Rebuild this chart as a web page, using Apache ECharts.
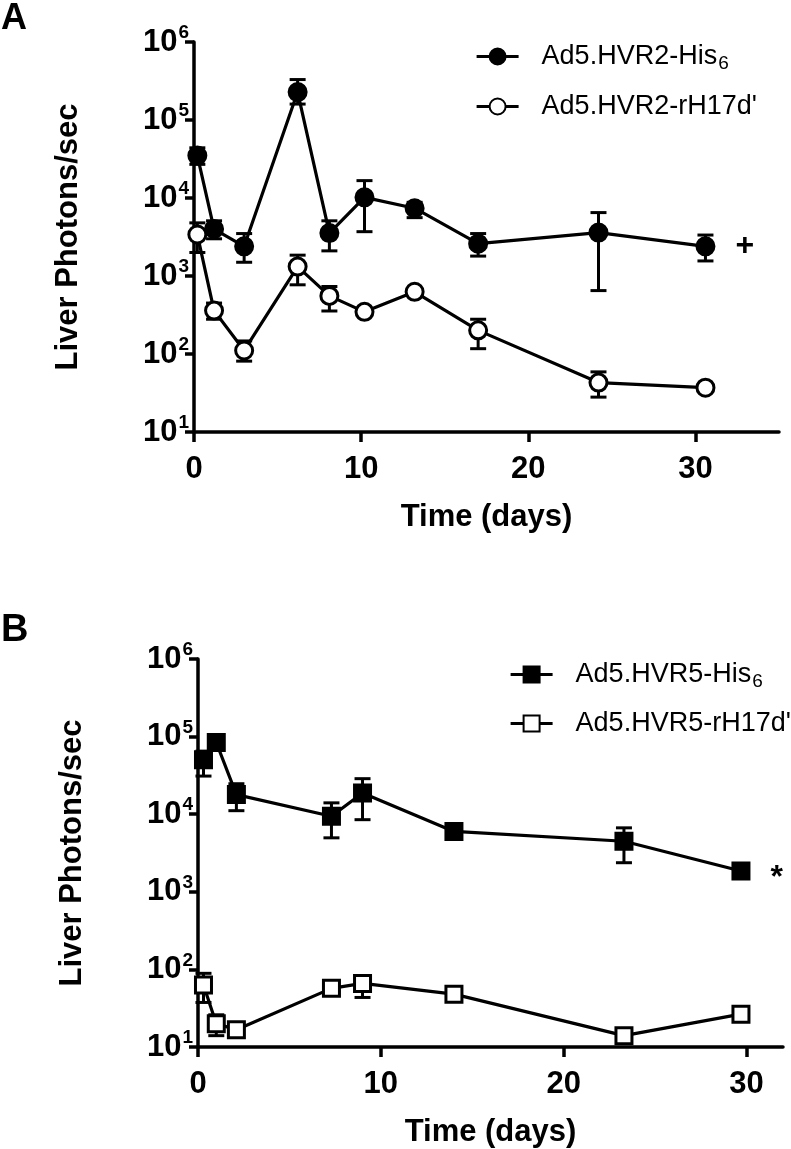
<!DOCTYPE html>
<html>
<head>
<meta charset="utf-8">
<script src="https://cdn.jsdelivr.net/npm/echarts@6/dist/echarts.min.js"></script>
<style>
html,body{margin:0;padding:0;background:#fff;}
#c{width:791px;height:1149px;}
</style>
</head>
<body>
<div id="c"></div>
<script>
// ---------- Panel A data ----------
const daysA = [0.2, 1.2, 3.0, 6.2, 8.1, 10.2, 13.2, 17.0, 24.2, 30.6];
const hvr2His = [35000, 4000, 2400, 228000, 3550, 10200, 7400, 2600, 3600, 2400];
const hvr2HisLo = [27000, 3000, 1500, 160000, 2100, 3700, 5600, 1800, 650, 1560];
const hvr2HisHi = [44000, 5100, 3500, 330000, 5100, 16700, 8800, 3500, 6500, 3350];
const hvr2Rh = [3400, 360, 111, 1320, 556, 347, 627, 201, 43, 37];
const hvr2RhLo = [2000, 279, 81, 771, 356, null, null, 117, 28, null];
const hvr2RhHi = [4800, 450, 147, 1850, 733, null, null, 279, 59, null];
// ---------- Panel B data ----------
const daysB = [0.3, 1.0, 2.1, 7.3, 9.0, 14.0, 23.3, 29.7];
const hvr5His = [50400, 84000, 17900, 9400, 18800, 6000, 4480, 1850];
const hvr5HisLo = [31000, 68000, 11100, 4960, 8500, null, 2370, null];
const hvr5HisHi = [65000, 100000, 24700, 14000, 28700, null, 6670, null];
const hvr5Rh = [63, 20, 16.7, 57, 66, 48, 14, 26.5];
const hvr5RhLo = [37.5, 14, null, null, 43.5, null, null, null];
const hvr5RhHi = [89, 26, null, null, 78.7, null, null, null];
// ---------- labels ----------
const seriesNames = ['Ad5.HVR2-His6', "Ad5.HVR2-rH17d'", 'Ad5.HVR5-His6', "Ad5.HVR5-rH17d'"];
const xTicks = [0, 10, 20, 30];
const yTitle = 'Liver Photons/sec';
const xTitle = 'Time (days)';
const panelLetters = ['A', 'B'];
const sigMarks = ['+', '*'];

const FONT = '"Liberation Sans", Arial, Helvetica, sans-serif';
const chart = echarts.init(document.getElementById('c'), null, {renderer: 'canvas'});

function pairs(xs, ys) { return xs.map((x, i) => [x, ys[i]]); }
function errData(xs, lo, hi) {
  const out = [];
  xs.forEach((x, i) => { if (lo[i] != null && hi[i] != null) out.push([x, lo[i], hi[i]]); });
  return out;
}
function withMark(xs, ys, mark, off) {
  return xs.map((x, i) => {
    if (i === xs.length - 1) {
      return {value: [x, ys[i]], label: {show: true, position: 'right', distance: 20, formatter: mark,
        offset: off, color: '#000', fontSize: 32, fontWeight: 'bold', fontFamily: FONT}};
    }
    return [x, ys[i]];
  });
}
function errSeries(data, idx) {
  return {
    type: 'custom', xAxisIndex: idx, yAxisIndex: idx, z: 1, silent: true,
    data: data,
    renderItem: function (params, api) {
      const x = api.value(0);
      const lo = api.coord([x, api.value(1)]);
      const hi = api.coord([x, api.value(2)]);
      const w = 8;
      const st = {stroke: '#000', lineWidth: 3};
      return {type: 'group', children: [
        {type: 'line', shape: {x1: lo[0], y1: lo[1], x2: hi[0], y2: hi[1]}, style: st},
        {type: 'line', shape: {x1: lo[0] - w, y1: lo[1], x2: lo[0] + w, y2: lo[1]}, style: st},
        {type: 'line', shape: {x1: hi[0] - w, y1: hi[1], x2: hi[0] + w, y2: hi[1]}, style: st}
      ]};
    }
  };
}
function lineSeries(name, data, idx, symbol, filled) {
  return {
    name: name, type: 'line', xAxisIndex: idx, yAxisIndex: idx, z: 3,
    data: data, symbol: symbol, symbolSize: symbol === 'rect' ? 16 : 17, showAllSymbol: true,
    lineStyle: {color: '#000', width: 3.2},
    itemStyle: {color: filled ? '#000' : '#fff', borderColor: '#000', borderWidth: 3},
    emphasis: {disabled: true}, animation: false
  };
}
function supLabel(v) {
  const e = Math.round(Math.log10(v));
  return '{b|10}{p|' + e + '}';
}
function yAxis(idx) {
  return {
    type: 'log', logBase: 10, min: 10, max: 1000000, gridIndex: idx,
    name: yTitle, nameLocation: 'middle', nameGap: 110,
    nameTextStyle: {fontSize: 31, fontWeight: 'bold', color: '#000', fontFamily: FONT},
    axisLine: {show: true, lineStyle: {color: '#000', width: 3.5}},
    axisTick: {show: true, length: 9, lineStyle: {color: '#000', width: 3.5}},
    minorTick: {show: false}, splitLine: {show: false},
    axisLabel: {
      margin: 5, formatter: supLabel, color: '#000',
      rich: {
        b: {fontSize: 31, fontWeight: 'bold', fontFamily: FONT, color: '#000'},
        p: {fontSize: 19, fontWeight: 'bold', fontFamily: FONT, color: '#000', padding: [0, 0, 18, 1]}
      }
    }
  };
}
function xAxis(idx, max) {
  return {
    type: 'value', min: 0, max: max, interval: 10, gridIndex: idx,
    name: xTitle, nameLocation: 'middle', nameGap: 70,
    nameTextStyle: {fontSize: 31, fontWeight: 'bold', color: '#000', fontFamily: FONT},
    axisLine: {show: true, onZero: false, lineStyle: {color: '#000', width: 3.5}},
    axisTick: {show: true, length: 10, customValues: xTicks, lineStyle: {color: '#000', width: 3.5}},
    splitLine: {show: false},
    axisLabel: {customValues: xTicks, margin: 22, fontSize: 31, fontWeight: 'bold', color: '#000', fontFamily: FONT}
  };
}
function legendFmt(name) {
  if (name.endsWith('His6')) return '{t|' + name.slice(0, -1) + '}{s|6}';
  return '{t|' + name + '}';
}
const legendText = {
  color: '#000', fontSize: 27, fontFamily: FONT, padding: [0, 0, 0, 18],
  rich: {
    t: {fontSize: 27, fontFamily: FONT, color: '#000'},
    s: {fontSize: 19, fontFamily: FONT, color: '#000', padding: [14, 0, 0, 1]}
  }
};
const legendCommon = {
  orient: 'vertical', itemWidth: 42, itemHeight: 20, formatter: legendFmt, textStyle: legendText,
  selectedMode: false, lineStyle: {width: 3.2, color: '#000'}
};

chart.setOption({
  animation: false,
  backgroundColor: '#fff',
  title: [
    {text: panelLetters[0], left: 1, top: 1, textStyle: {fontSize: 36, fontWeight: 'bold', color: '#000', fontFamily: FONT}, padding: 0},
    {text: panelLetters[1], left: 1, top: 612, textStyle: {fontSize: 38, fontWeight: 'bold', color: '#000', fontFamily: FONT}, padding: 0}
  ],
  grid: [
    {left: 194, top: 42, width: 585, height: 390},
    {left: 198, top: 659, width: 585, height: 390}
  ],
  xAxis: [xAxis(0, 35), xAxis(1, 32)],
  yAxis: [yAxis(0), yAxis(1)],
  legend: [
    Object.assign({data: [seriesNames[0], seriesNames[1]], left: 470, top: 38, itemGap: 20}, legendCommon),
    Object.assign({data: [seriesNames[2], seriesNames[3]], left: 504, top: 656, itemGap: 19}, legendCommon)
  ],
  series: [
    errSeries(errData(daysA, hvr2HisLo, hvr2HisHi), 0),
    errSeries(errData(daysA, hvr2RhLo, hvr2RhHi), 0),
    errSeries(errData(daysB, hvr5HisLo, hvr5HisHi), 1),
    errSeries(errData(daysB, hvr5RhLo, hvr5RhHi), 1),
    lineSeries(seriesNames[0], withMark(daysA, hvr2His, sigMarks[0], [0, 0]), 0, 'circle', true),
    lineSeries(seriesNames[1], pairs(daysA, hvr2Rh), 0, 'circle', false),
    lineSeries(seriesNames[2], withMark(daysB, hvr5His, sigMarks[1], [0, 7]), 1, 'rect', true),
    lineSeries(seriesNames[3], pairs(daysB, hvr5Rh), 1, 'rect', false)
  ]
});
</script>
</body>
</html>
